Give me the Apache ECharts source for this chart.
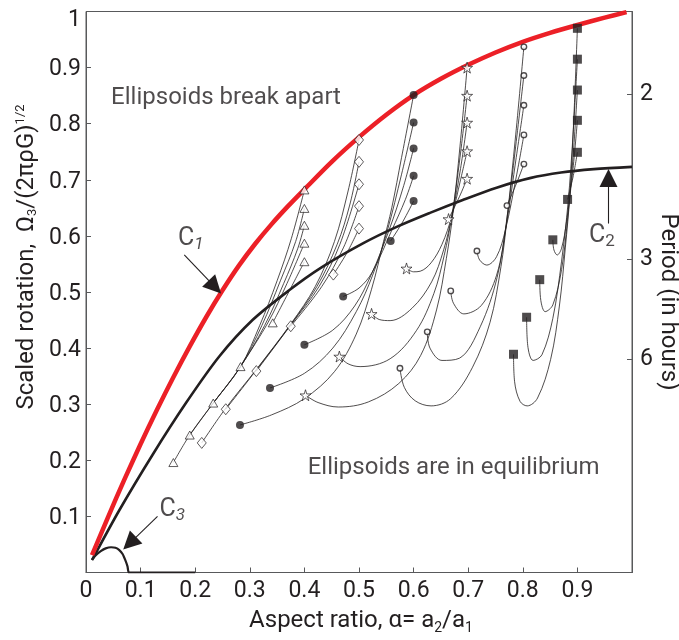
<!DOCTYPE html>
<html>
<head>
<meta charset="utf-8">
<script src="https://cdn.jsdelivr.net/npm/echarts@6/dist/echarts.min.js"></script>
<style>
  html, body { margin: 0; padding: 0; background: #fff; }
  #chart { width: 679px; height: 640px; }
</style>
</head>
<body>
<div id="chart"></div>
<script>
// Stability boundaries (alpha, scaled spin)
const c1Curve = [[0.011,0.031],[0.040,0.098],[0.070,0.165],[0.100,0.229],[0.130,0.290],[0.160,0.348],[0.190,0.403],[0.220,0.455],[0.250,0.503],[0.280,0.547],[0.310,0.586],[0.340,0.621],[0.370,0.653],[0.400,0.683],[0.450,0.732],[0.500,0.776],[0.550,0.816],[0.600,0.851],[0.650,0.880],[0.700,0.905],[0.750,0.927],[0.800,0.946],[0.850,0.962],[0.900,0.976],[0.950,0.989],[0.990,0.999]];
const c2Curve = [[0.011,0.022],[0.061,0.111],[0.122,0.210],[0.183,0.302],[0.244,0.385],[0.305,0.450],[0.372,0.503],[0.430,0.543],[0.508,0.587],[0.569,0.616],[0.630,0.641],[0.690,0.664],[0.752,0.686],[0.813,0.703],[0.870,0.713],[0.930,0.719],[1.000,0.723]];
const c3Curve = [[0.011,0.023],[0.018,0.031],[0.027,0.038],[0.036,0.043],[0.046,0.045],[0.054,0.044],[0.061,0.040],[0.067,0.033],[0.072,0.022],[0.076,0.011],[0.079,0.000],[0.200,0.000]];

// Evolution tracks: each starts at its equilibrium end point and ends at the initial spin state
const triangleTracks = [
  [[0.160,0.196],[0.190,0.245],[0.233,0.302],[0.283,0.367],[0.318,0.440],[0.350,0.520],[0.376,0.595],[0.400,0.682]],
  [[0.190,0.245],[0.233,0.302],[0.283,0.367],[0.322,0.440],[0.356,0.520],[0.384,0.590],[0.400,0.649]],
  [[0.233,0.302],[0.283,0.367],[0.327,0.440],[0.362,0.515],[0.388,0.578],[0.400,0.619]],
  [[0.283,0.367],[0.333,0.445],[0.368,0.515],[0.400,0.587]],
  [[0.342,0.445],[0.374,0.505],[0.400,0.554]]
];
const diamondTracks = [
  [[0.212,0.231],[0.256,0.293],[0.312,0.362],[0.375,0.443],[0.420,0.510],[0.455,0.590],[0.480,0.680],[0.500,0.771]],
  [[0.256,0.291],[0.312,0.361],[0.375,0.442],[0.423,0.510],[0.460,0.585],[0.483,0.655],[0.500,0.732]],
  [[0.312,0.359],[0.375,0.441],[0.427,0.510],[0.465,0.585],[0.500,0.692]],
  [[0.375,0.439],[0.432,0.510],[0.472,0.580],[0.500,0.653]],
  [[0.453,0.531],[0.478,0.570],[0.500,0.613]]
];
const dotTracks = [
  [[0.282,0.263],[0.340,0.281],[0.400,0.310],[0.455,0.358],[0.495,0.425],[0.523,0.505],[0.545,0.590],[0.560,0.650],[0.578,0.740],[0.600,0.851]],
  [[0.337,0.329],[0.400,0.355],[0.452,0.400],[0.495,0.465],[0.525,0.530],[0.552,0.610],[0.578,0.710],[0.600,0.802]],
  [[0.400,0.406],[0.452,0.432],[0.492,0.475],[0.522,0.530],[0.555,0.610],[0.582,0.690],[0.600,0.756]],
  [[0.471,0.492],[0.500,0.507],[0.524,0.535],[0.560,0.610],[0.585,0.665],[0.600,0.707]],
  [[0.558,0.591],[0.580,0.625],[0.600,0.662]]
];
const starTracks = [
  [[0.402,0.316],[0.425,0.303],[0.462,0.295],[0.517,0.304],[0.573,0.337],[0.613,0.387],[0.642,0.468],[0.660,0.560],[0.672,0.640],[0.685,0.760],[0.698,0.900]],
  [[0.464,0.385],[0.480,0.372],[0.502,0.367],[0.557,0.381],[0.605,0.431],[0.637,0.497],[0.656,0.565],[0.670,0.635],[0.685,0.740],[0.698,0.850]],
  [[0.523,0.461],[0.537,0.451],[0.557,0.449],[0.597,0.471],[0.633,0.518],[0.655,0.575],[0.670,0.635],[0.686,0.720],[0.698,0.802]],
  [[0.587,0.542],[0.600,0.536],[0.612,0.537],[0.632,0.552],[0.652,0.585],[0.670,0.635],[0.686,0.700],[0.698,0.751]],
  [[0.664,0.630],[0.684,0.670],[0.698,0.702]]
];
const ringTracks = [
  [[0.575,0.364],[0.583,0.330],[0.603,0.306],[0.632,0.297],[0.668,0.310],[0.708,0.366],[0.740,0.446],[0.760,0.545],[0.771,0.630],[0.787,0.780],[0.802,0.937]],
  [[0.625,0.429],[0.630,0.400],[0.652,0.378],[0.684,0.382],[0.722,0.438],[0.753,0.526],[0.770,0.625],[0.787,0.760],[0.802,0.886]],
  [[0.668,0.502],[0.673,0.480],[0.692,0.461],[0.724,0.476],[0.752,0.530],[0.770,0.620],[0.788,0.740],[0.802,0.833]],
  [[0.716,0.573],[0.721,0.557],[0.734,0.548],[0.752,0.563],[0.768,0.610],[0.788,0.705],[0.802,0.780]],
  [[0.771,0.654],[0.789,0.695],[0.802,0.728]]
];
const squareTracks = [
  [[0.783,0.389],[0.785,0.340],[0.795,0.305],[0.808,0.297],[0.827,0.311],[0.851,0.380],[0.867,0.475],[0.878,0.580],[0.886,0.670],[0.893,0.800],[0.900,0.970]],
  [[0.807,0.455],[0.809,0.405],[0.819,0.378],[0.835,0.388],[0.855,0.453],[0.871,0.555],[0.883,0.660],[0.892,0.780],[0.900,0.915]],
  [[0.831,0.522],[0.833,0.485],[0.841,0.465],[0.855,0.477],[0.871,0.540],[0.882,0.630],[0.892,0.740],[0.900,0.860]],
  [[0.855,0.593],[0.857,0.575],[0.863,0.566],[0.871,0.578],[0.880,0.625],[0.892,0.720],[0.900,0.806]],
  [[0.882,0.665],[0.892,0.705],[0.900,0.749]]
];

// Right-hand period axis
const periodTickValues = [0.853, 0.558, 0.381];
const periodTickLabels = ['2', '3', '6'];

// Annotation arrows (tail, head centre) and their labels
const c1Arrow = [[0.180,0.566],[0.236,0.509]];
const c2Arrow = [[0.957,0.622],[0.957,0.703]];
const c3Arrow = [[0.131,0.100],[0.080,0.052]];
const curveLabels = [
  { text: '{c|C}{si|1}', at: [0.192, 0.595] },
  { text: '{c|C}{s|2}', at: [0.945, 0.600] },
  { text: '{c|C}{si|3}', at: [0.158, 0.112] }
];
const regionLabels = [
  { text: 'Ellipsoids break apart', at: [0.046, 0.846] },
  { text: 'Ellipsoids are in equilibrium', at: [0.406, 0.186] }
];

const FONT = 'Roboto';
const INK = '#231f20';
const AXIS = '#58595b';

const markerStyles = [
  { tracks: triangleTracks, symbol: 'triangle', size: [9, 8], fill: '#fff', border: 0.9 },
  { tracks: diamondTracks, symbol: 'diamond', size: [9, 11], fill: '#fff', border: 0.9 },
  { tracks: dotTracks, symbol: 'circle', size: 8, fill: INK, border: 0 },
  { tracks: starTracks, symbol: 'path://M50,0 L61,35 L98,35 L68,57 L79,91 L50,70 L21,91 L32,57 L2,35 L39,35 Z', size: 11, fill: '#fff', border: 0.9 },
  { tracks: ringTracks, symbol: 'circle', size: 5.5, fill: '#fff', border: 1.4 },
  { tracks: squareTracks, symbol: 'rect', size: 9, fill: INK, border: 0 }
];

const series = [];

markerStyles.forEach(g => {
  g.tracks.forEach(track => {
    series.push({
      type: 'line', data: track, smooth: 0.35, showSymbol: false, silent: true, z: 2,
      lineStyle: { color: INK, width: 0.8 }
    });
  });
});

series.push({ type: 'line', data: c1Curve, smooth: 0.3, showSymbol: false, silent: true, z: 4,
  lineStyle: { color: '#ec2027', width: 4.5 } });
series.push({ type: 'line', data: c2Curve, smooth: 0.3, showSymbol: false, silent: true, z: 3,
  lineStyle: { color: INK, width: 2.6 } });
series.push({ type: 'line', data: c3Curve, smooth: 0.2, showSymbol: false, silent: true, z: 3,
  lineStyle: { color: INK, width: 2.2 } });

markerStyles.forEach(g => {
  const ends = g.tracks.flatMap(t => [t[0], t[t.length - 1]]);
  series.push({
    type: 'scatter', data: ends, symbol: g.symbol, symbolSize: g.size, silent: true, z: 6,
    itemStyle: { color: g.fill, borderColor: INK, borderWidth: g.border }
  });
});

series.push({
  type: 'lines', coordinateSystem: 'cartesian2d', silent: true, z: 5,
  symbol: ['none', 'triangle'], symbolSize: [10, 18],
  lineStyle: { color: INK, width: 1.1, curveness: 0, opacity: 1 },
  data: [c1Arrow, c2Arrow, c3Arrow].map(a => ({ coords: a }))
});

series.push({
  type: 'scatter', silent: true, z: 7, symbolSize: 0,
  data: curveLabels.map(l => ({ value: l.at, name: l.text })),
  label: {
    show: true, position: 'inside', formatter: p => p.name,
    rich: {
      c: { fontFamily: FONT, fontSize: 25, color: INK },
      s: { fontFamily: FONT, fontSize: 17, color: INK, padding: [12, 0, 0, 0] },
      si: { fontFamily: FONT, fontSize: 17, fontStyle: 'italic', color: INK, padding: [12, 0, 0, 0] }
    }
  }
});

series.push({
  type: 'scatter', silent: true, z: 7, symbolSize: 0,
  data: regionLabels.map(l => ({ value: l.at, name: l.text })),
  label: {
    show: true, position: [0, 0], align: 'left', verticalAlign: 'middle',
    formatter: p => p.name, fontFamily: FONT, fontSize: 24, color: INK
  }
});

const tickText = { fontFamily: FONT, fontSize: 23, color: INK };

const option = {
  animation: false,
  backgroundColor: '#fff',
  grid: { left: 86, right: 47, top: 11.5, bottom: 67.5, show: true, borderColor: AXIS, borderWidth: 1 },
  xAxis: {
    type: 'value', min: 0, max: 1, interval: 0.1,
    axisLine: { show: true, lineStyle: { color: AXIS, width: 1 } },
    axisTick: { show: true, inside: true, length: 5, lineStyle: { color: AXIS } },
    splitLine: { show: false },
    axisLabel: Object.assign({ margin: 7, formatter: v => (v >= 1 ? '' : String(+v.toFixed(1))) }, tickText)
  },
  yAxis: [
    {
      type: 'value', min: 0, max: 1, interval: 0.1,
      axisLine: { show: true, lineStyle: { color: AXIS, width: 1 } },
      axisTick: { show: true, inside: true, length: 5, lineStyle: { color: AXIS } },
      splitLine: { show: false },
      axisLabel: Object.assign({
        margin: 5,
        formatter: v => (v <= 0 ? '' : v >= 1 ? '{top|1}' : '{n|' + (+v.toFixed(1)) + '}'),
        rich: {
          n: { fontFamily: FONT, fontSize: 23, color: INK, padding: [4, 0, 0, 0] },
          top: { fontFamily: FONT, fontSize: 23, color: INK, padding: [18, 0, 0, 0] }
        }
      }, tickText)
    },
    {
      type: 'value', min: 0, max: 1, position: 'right',
      axisLine: { show: true, lineStyle: { color: AXIS, width: 1 } },
      axisTick: { show: true, inside: true, length: 5, lineStyle: { color: AXIS }, customValues: periodTickValues },
      splitLine: { show: false },
      axisLabel: Object.assign({
        margin: 8, customValues: periodTickValues,
        formatter: v => periodTickLabels[periodTickValues.indexOf(v)] || ''
      }, tickText)
    }
  ],
  graphic: [
    {
      type: 'text', x: 27, y: 257, rotation: Math.PI / 2,
      style: {
        text: '{t|Scaled rotation,  Ω}{sub|3}{t|/(2πρG)}{sup|1/2}',
        align: 'center', verticalAlign: 'middle',
        rich: {
          t: { fontFamily: FONT, fontSize: 24, fill: INK },
          sub: { fontFamily: FONT, fontSize: 13, fill: INK, padding: [12, 0, 0, 0] },
          sup: { fontFamily: FONT, fontSize: 13, fill: INK, padding: [0, 0, 12, 0] }
        }
      }
    },
    {
      type: 'text', x: 668, y: 302, rotation: -Math.PI / 2,
      style: { text: 'Period (in hours)', align: 'center', verticalAlign: 'middle',
        fontFamily: FONT, fontSize: 24, fill: INK }
    },
    {
      type: 'text', x: 361, y: 621,
      style: {
        text: '{t|Aspect ratio, α= a}{sub|2}{t|/a}{sub|1}',
        align: 'center', verticalAlign: 'middle',
        rich: {
          t: { fontFamily: FONT, fontSize: 24, fill: INK },
          sub: { fontFamily: FONT, fontSize: 14, fill: INK, padding: [14, 0, 0, 0] }
        }
      }
    }
  ],
  series: series
};

const chart = echarts.init(document.getElementById('chart'), null, { renderer: 'canvas' });
chart.setOption(option);
</script>
</body>
</html>
